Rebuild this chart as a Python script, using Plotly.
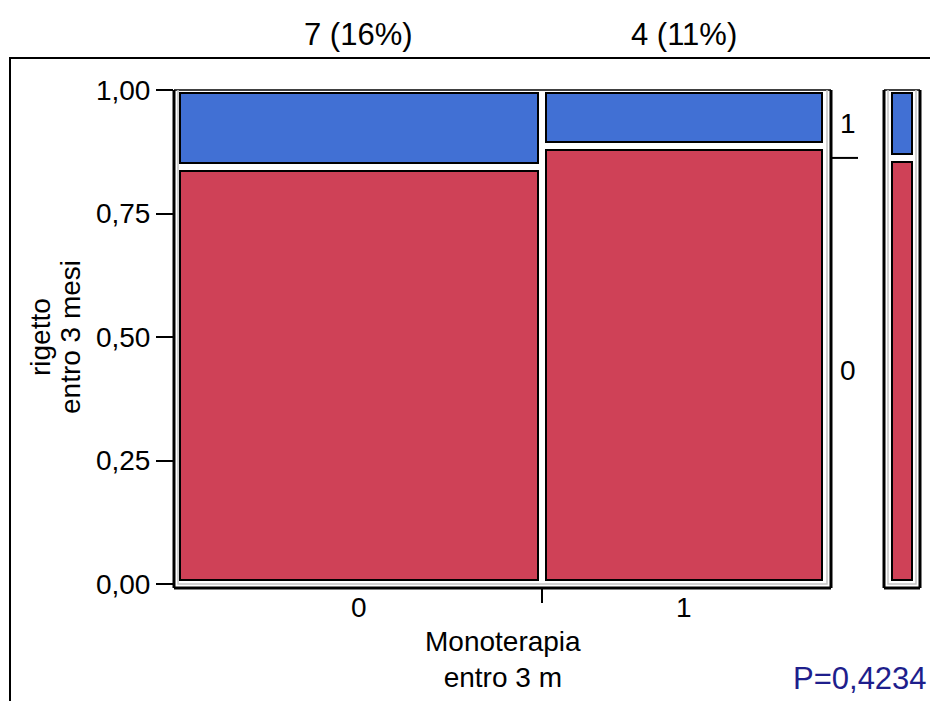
import plotly.graph_objects as go

# ---- data ----
groups = ["0", "1"]                 # Monoterapia entro 3 m
count_rig1 = [7, 4]                 # rigetto = 1
count_rig0 = [38, 31]               # rigetto = 0
y_ticks = [0.0, 0.25, 0.50, 0.75, 1.0]
resp_labels = ["1", "0"]
p_text = "P=0,4234"
y_title_lines = ["rigetto", "entro 3 mesi"]
x_title = "Monoterapia<br>entro 3 m"

RED = "#cf4157"
BLUE = "#4170d4"
FONT = "Liberation Sans, Arial, sans-serif"

n = [a + b for a, b in zip(count_rig1, count_rig0)]
N = sum(n)
widths = [k / N for k in n]
lefts = [sum(widths[:i]) for i in range(len(widths))]
centers = [l + w / 2 for l, w in zip(lefts, widths)]

# pixel geometry helpers (style)
PX_X = 650.0   # px per x-unit
PX_Y = 494.0   # px per y-unit
padx = 4 / PX_X
gapy = 4 / PX_Y
pad_bot = 4 / PX_Y
pad_top = 3 / PX_Y

fig = go.Figure()

for i, g in enumerate(groups):
    p0 = count_rig0[i] / n[i]
    w = widths[i] - 2 * padx
    fig.add_trace(go.Bar(x=[centers[i]], width=[w], base=[pad_bot], y=[p0 - gapy - pad_bot],
                         marker=dict(color=RED, line=dict(color="black", width=2)),
                         xaxis="x", yaxis="y", showlegend=False, hoverinfo="skip"))
    fig.add_trace(go.Bar(x=[centers[i]], width=[w], base=[p0 + gapy], y=[1 - pad_top - p0 - gapy],
                         marker=dict(color=BLUE, line=dict(color="black", width=2)),
                         xaxis="x", yaxis="y", showlegend=False, hoverinfo="skip"))

# marginal bar
P0 = sum(count_rig0) / N
fig.add_trace(go.Bar(x=[0.5], width=[0.56], base=[pad_bot], y=[P0 - gapy - pad_bot],
                     marker=dict(color=RED, line=dict(color="black", width=2)),
                     xaxis="x2", yaxis="y", showlegend=False, hoverinfo="skip"))
fig.add_trace(go.Bar(x=[0.5], width=[0.56], base=[P0 + gapy], y=[1 - pad_top - P0 - gapy],
                     marker=dict(color=BLUE, line=dict(color="black", width=2)),
                     xaxis="x2", yaxis="y", showlegend=False, hoverinfo="skip"))

W, H = 930, 701
ML, MR, MT, MB = 174, 10, 90, 113
PW = W - ML - MR
PH = H - MT - MB
main_right = 831
marg_left = 884

def px_x(px):
    return (px - ML) / PW

def px_y(py):
    return (H - MB - py) / PH

fig.update_layout(
    width=W, height=H, autosize=False,
    margin=dict(l=ML, r=MR, t=MT, b=MB, pad=0),
    paper_bgcolor="white", plot_bgcolor="white",
    barmode="overlay", bargap=0,
    separators=", ",
    font=dict(family=FONT, size=28, color="black"),
    xaxis=dict(domain=[0, px_x(main_right)], range=[-2 / PX_X, 1 + 5 / PX_X],
               tickmode="array", tickvals=centers, ticktext=groups, ticks="",
               showgrid=False, zeroline=False, showline=False,
               tickfont=dict(size=28),
               minor=dict(tickmode="array", tickvals=lefts[1:], ticks="outside",
                          ticklen=14, tickwidth=2, tickcolor="black", showgrid=False)),
    xaxis2=dict(domain=[px_x(marg_left), 1], range=[0, 1], anchor="y",
                showticklabels=False, ticks="", showgrid=False, zeroline=False, showline=False),
    yaxis=dict(range=[-4 / PX_Y, 1.0], tickmode="array", tickvals=y_ticks, tickformat=".2f",
               ticks="outside", ticklen=17, tickwidth=2, tickcolor="black",
               showgrid=False, zeroline=False, showline=False, tickfont=dict(size=28)),
)

shapes = []
for xr in ["x domain", "x2 domain"]:
    shapes += [
        dict(type="line", xref=xr, yref="y domain", x0=0, x1=0, y0=0, y1=1, line=dict(color="black", width=3)),
        dict(type="line", xref=xr, yref="y domain", x0=1, x1=1, y0=0, y1=1, line=dict(color="black", width=3)),
        dict(type="line", xref=xr, yref="y domain", x0=0, x1=1, y0=0, y1=0, line=dict(color="black", width=3)),
        dict(type="line", xref=xr, yref="y domain", x0=0, x1=1, y0=1, y1=1, line=dict(color="black", width=1.5)),
    ]
main_w = main_right - ML
marg_w = W - MR - marg_left
for xr, wpx in [("x domain", main_w), ("x2 domain", marg_w)]:
    dx = 4 / wpx
    dy = 4 / PH
    shapes.append(dict(type="path", xref=xr, yref="y domain",
                       path=f"M {dx},1 L {dx},{dy} L {1 - dx},{dy} L {1 - dx},1",
                       line=dict(color="#c4c4c4", width=1.5)))
shapes.append(dict(type="rect", xref="paper", yref="paper",
                   x0=px_x(10), x1=px_x(960), y0=px_y(760), y1=px_y(58),
                   line=dict(color="black", width=2), fillcolor="rgba(0,0,0,0)", layer="below"))
shapes.append(dict(type="line", xref="paper", yref="y", x0=px_x(832), x1=px_x(858),
                   y0=P0, y1=P0, line=dict(color="black", width=2)))
fig.update_layout(shapes=shapes)

ann = []
for i in range(len(groups)):
    pct = round(100 * count_rig1[i] / n[i])
    ann.append(dict(x=centers[i], xref="x", y=px_y(35), yref="paper",
                    text=f"{count_rig1[i]} ({pct}%)", showarrow=False,
                    font=dict(size=31), xanchor="center", yanchor="middle"))
ann.append(dict(x=px_x(848), xref="paper", y=(1 + P0) / 2, yref="y", text=resp_labels[0],
                showarrow=False, font=dict(size=28), xanchor="center", yanchor="middle"))
ann.append(dict(x=px_x(848), xref="paper", y=P0 / 2, yref="y", text=resp_labels[1],
                showarrow=False, font=dict(size=28), xanchor="center", yanchor="middle"))
ann.append(dict(x=0.5, xref="x domain", y=px_y(659), yref="paper",
                text=x_title, showarrow=False, font=dict(size=28),
                xanchor="center", yanchor="middle"))
for line_text, xpx in zip(y_title_lines, [40, 70]):
    ann.append(dict(x=px_x(xpx), xref="paper", y=0.5, yref="y",
                    text=line_text, showarrow=False, font=dict(size=28),
                    textangle=-90, xanchor="center", yanchor="middle"))
ann.append(dict(x=px_x(929), xref="paper", y=px_y(678), yref="paper",
                text=p_text, showarrow=False, font=dict(size=31, color="#1e1e8c"),
                xanchor="right", yanchor="middle"))
fig.update_layout(annotations=ann)

fig.write_html("out.html")
